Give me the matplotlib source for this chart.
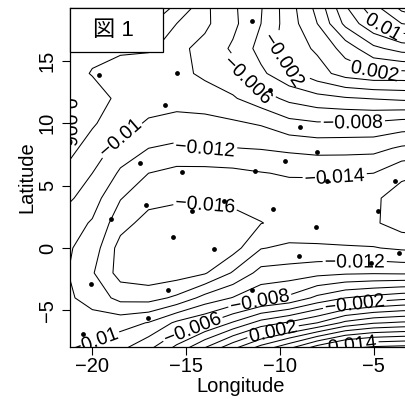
import numpy as np
import matplotlib
matplotlib.use("Agg")
import matplotlib.pyplot as plt
import matplotlib.transforms as mtransforms
from matplotlib.patches import Rectangle, PathPatch
from matplotlib.textpath import TextPath
from matplotlib.font_manager import FontProperties

plt.rcParams['font.family'] = ['Liberation Sans', 'Noto Sans CJK JP', 'DejaVu Sans']
plt.rcParams['contour.negative_linestyle'] = 'solid'
plt.rcParams['axes.unicode_minus'] = True

# ---- data -------------------------------------------------------------
grid_lon = [-21.5, -20.0, -18.5, -17.0, -15.5, -14.0, -12.5, -11.0, -9.5, -8.0, -6.5, -5.0, -3.5, -2.0]
grid_lat = [-8, -6, -4, -2, 0, 2, 4, 6, 8, 10, 12, 14, 16, 18, 20]
# field values (x 1e-3), one row per latitude (south -> north)
field_rows = [
    [-10.3, -9.6, -8.5, -6.5, -3.5, 0.0, 3.5, 6.8, 9.6, 13.0, 15.5, 16.5, 16.8, 17.0],
    [-11.3, -11.1, -10.8, -9.9, -7.6, -6.2, -3.8, -1.2, 0.3, 2.0, 4.5, 5.8, 6.3, 6.5],
    [-11.5, -12.8, -14.6, -14.8, -13.6, -11.3, -9.9, -8.5, -7.6, -5.5, -4.0, -3.3, -2.6, -2.3],
    [-11.7, -13.8, -16.8, -17.2, -17.0, -16.2, -13.8, -11.3, -11.1, -10.6, -10.3, -10.2, -10.3, -10.3],
    [-11.6, -12.9, -16.8, -17.6, -17.7, -17.3, -16.8, -14.1, -13.6, -13.7, -13.8, -13.9, -14.3, -14.5],
    [-10.9, -12.2, -15.2, -16.8, -17.3, -17.1, -16.6, -16.05, -15.5, -15.4, -15.6, -15.7, -17.0, -17.4],
    [-9.4, -11.1, -13.9, -15.3, -15.6, -15.7, -15.6, -15.3, -15.0, -14.9, -15.2, -15.7, -16.8, -17.2],
    [-8.2, -10.0, -12.3, -14.0, -14.6, -14.7, -14.5, -14.1, -13.8, -13.8, -13.9, -14.0, -15.6, -16.0],
    [-7.3, -8.7, -10.9, -12.0, -12.4, -12.05, -12.05, -11.9, -11.6, -11.3, -11.3, -11.4, -12.3, -12.8],
    [-5.5, -7.8, -9.0, -10.3, -10.7, -10.6, -10.3, -9.8, -8.6, -8.2, -8.3, -8.3, -8.8, -9.0],
    [-5.6, -7.2, -8.4, -8.9, -9.2, -9.0, -8.2, -6.9, -5.5, -4.7, -4.2, -3.9, -3.6, -3.4],
    [-7.2, -8.1, -8.8, -9.0, -8.6, -7.6, -6.8, -4.4, -2.5, -0.8, 0.8, 1.5, 1.4, 1.6],
    [-7.4, -7.6, -7.7, -7.8, -8.5, -7.4, -5.7, -3.3, -1.0, 0.3, 2.8, 5.5, 6.8, 7.2],
    [-6.5, -6.3, -6.0, -5.7, -8.0, -8.4, -6.5, -4.0, -1.0, 2.0, 6.5, 9.6, 12.0, 12.8],
    [-6.0, -5.8, -5.4, -5.0, -5.6, -8.4, -6.3, -4.2, -0.8, 3.0, 8.5, 12.5, 16.0, 18.0],
]

station_lon = [-11.48, -19.64, -15.50, -16.12, -10.52, -8.92, -8.03, -17.46, -9.71, -15.20,
               -11.32, -7.50, -3.86, -17.12, -12.98, -14.70, -10.35, -4.78, -19.00, -8.09,
               -15.68, -13.49, -8.99, -3.64, -5.15, -20.09, -15.95, -11.48, -17.01, -20.48]
station_lat = [18.20, 13.87, 14.01, 11.47, 12.67, 9.73, 7.70, 6.84, 6.98, 6.07,
               6.15, 5.40, 5.40, 3.42, 3.77, 2.97, 3.10, 2.99, 2.33, 1.66,
               0.91, -0.08, -0.62, -0.43, -1.23, -2.91, -3.37, -3.37, -5.64, -6.90]

contour_levels = [-0.016, -0.014, -0.012, -0.010, -0.008, -0.006, -0.004, -0.002, 0.0,
                  0.002, 0.004, 0.006, 0.008, 0.010, 0.012, 0.014, 0.016]

# contour labels: level, lon, lat
label_level = [0.010, 0.002, -0.002, -0.006, -0.008, -0.010, -0.012, -0.014, -0.016,
               -0.012, -0.008, -0.002, -0.006, 0.002, 0.014, -0.010, -0.006]
label_lon = [-4.44, -4.92, -9.83, -11.54, -6.10, -18.41, -13.98, -7.07, -13.98,
             -6.00, -11.05, -6.00, -14.67, -10.36, -6.15, -19.96, -21.10]
label_lat = [17.80, 14.50, 15.00, 13.70, 10.20, 8.66, 8.10, 5.77, 3.45,
             -1.28, -4.33, -4.57, -6.42, -6.74, -7.46, -7.22, 10.50]

xticks = [-20, -15, -10, -5]
yticks = [-5, 0, 5, 10, 15]

# ---- figure -----------------------------------------------------------
W, H = 406, 399
LABEL_PT = 14
fig = plt.figure(figsize=(W / 100, H / 100), dpi=100)
ax = fig.add_axes([70 / W, 52 / H, 341 / W, 339 / H])
ax.set_xlim(-21.19, -3.0)
ax.set_ylim(-7.94, 19.25)

z = np.array(field_rows) * 1e-3


def fmt(v):
    s = '%g' % round(float(v), 4)
    if s == '-0':
        s = '0'
    return s.replace('-', '\u2212')


# one contour set per level so that each label goes onto the intended level
sets = {}
for lev in contour_levels:
    sets[lev] = ax.contour(grid_lon, grid_lat, z, levels=[lev],
                           colors='black', linewidths=0.75)

label_texts = []
for lev, lx, ly in zip(label_level, label_lon, label_lat):
    cs = sets[lev]
    if len(cs.allsegs[0]) == 0:
        continue
    txts = ax.clabel(cs, manual=[(lx, ly)], fmt=fmt, fontsize=LABEL_PT, inline=True,
                     inline_spacing=2)
    label_texts.append(txts[-1])

# Draw the labels as glyph outlines so that they are clipped to the plot region
fprop = FontProperties(family='Liberation Sans')
for t in label_texts:
    x, y = t.get_position()
    rot = t.get_rotation()
    disp = ax.transData.transform((x, y))
    tp = TextPath((0, 0), t.get_text(), size=LABEL_PT * 100 / 72, prop=fprop)
    ext = tp.get_extents()
    cx = (ext.x0 + ext.x1) / 2
    cy = (ext.y0 + ext.y1) / 2
    tr = mtransforms.Affine2D().translate(-cx, -cy).rotate_deg(rot).translate(*disp)
    patch = PathPatch(tr.transform_path(tp), transform=mtransforms.IdentityTransform(),
                      facecolor='black', edgecolor='none', zorder=3)
    ax.add_patch(patch)
    patch.set_clip_path(ax.patch)
    t.set_visible(False)

ax.scatter(station_lon, station_lat, s=12, color='black', zorder=3, linewidths=0)

ax.set_xticks(xticks)
ax.set_yticks(yticks)
ax.set_xticklabels([fmt(v) for v in xticks])
ax.set_yticklabels([fmt(v) for v in yticks], rotation=90, va='center')
ax.tick_params(axis='both', direction='out', length=5.5, width=0.8, labelsize=14.5)
ax.tick_params(axis='x', pad=1.5)
ax.tick_params(axis='y', pad=4)
ax.set_xlabel('Longitude', fontsize=14.5, labelpad=1)
ax.set_ylabel('Latitude', fontsize=14.5, labelpad=1)
for sp in ax.spines.values():
    sp.set_linewidth(0.9)
ax.set_xlim(-21.19, -3.0)
ax.set_ylim(-7.94, 19.25)

# title box
box = Rectangle((0, 0.870), 0.2727, 0.13, transform=ax.transAxes,
                facecolor='white', edgecolor='black', linewidth=0.9, zorder=5,
                clip_on=False)
ax.add_patch(box)
ax.text(0.128, 0.935, '図 1', transform=ax.transAxes, ha='center', va='center',
        fontsize=16, zorder=6)

fig.savefig('out.png', dpi=100)
